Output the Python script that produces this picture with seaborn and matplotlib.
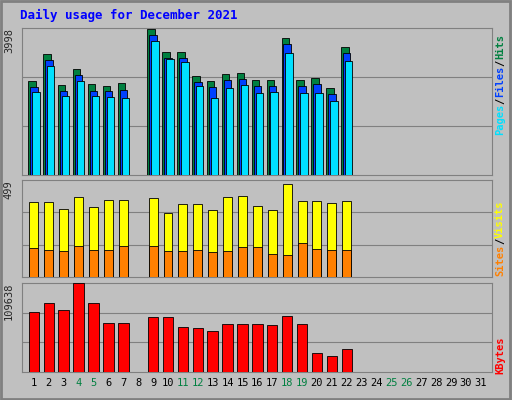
import numpy as np
import matplotlib.pyplot as plt
import seaborn as sns

days = [1, 2, 3, 4, 5, 6, 7, 9, 10, 11, 12, 13, 14, 15, 16, 17, 18, 19, 20, 21, 22]
hits = [2557, 3291, 2448, 2883, 2475, 2421, 2502, 3970, 3345, 3345, 2693, 2557, 2747, 2774, 2584, 2584, 3726, 2584, 2638, 2366, 3481]
files = [2393, 3128, 2285, 2720, 2285, 2285, 2312, 3807, 3182, 3182, 2530, 2394, 2584, 2611, 2421, 2421, 3563, 2421, 2475, 2203, 3318]
pages = [2257, 2964, 2149, 2557, 2149, 2122, 2095, 3644, 3155, 3074, 2421, 2095, 2366, 2448, 2230, 2257, 3318, 2230, 2230, 2013, 3100]
visits = [386, 386, 350, 412, 360, 396, 396, 407, 329, 375, 375, 345, 412, 417, 365, 345, 478, 391, 391, 381, 391]
sites = [149, 139, 134, 159, 139, 139, 159, 159, 134, 134, 139, 129, 134, 154, 154, 118, 113, 175, 144, 139, 139]
kbytes = [73921, 85008, 76385, 109638, 85008, 60365, 60365, 67757, 67757, 55437, 54205, 50509, 59133, 59133, 59133, 57901, 68989, 59133, 23405, 19709, 28333]
weekend = [4, 5, 11, 12, 18, 19, 25, 26]

sns.set_style("white")
plt.rcParams['font.family'] = ['DejaVu Sans Mono']
bg = "#c0c0c0"
fig = plt.figure(figsize=(5.12, 4.0), dpi=100, facecolor=bg)

x = np.array(days, dtype=float)
left, width = 22 / 512, 470 / 512
panels = [(28, 175), (180, 277), (283, 372)]
axes = []
for top, bot in panels:
    ax = fig.add_axes([left, 1 - bot / 400, width, (bot - top) / 400], facecolor=bg)
    ax.set_xlim(0.2, 31.75)
    for s in ax.spines.values():
        s.set_color("#808080")
    axes.append(ax)

ax1, ax2, ax3 = axes
w = 0.5
ax1.bar(x - 0.13, hits, w, color="#008040", edgecolor="black", lw=0.6, zorder=3)
ax1.bar(x + 0.0, files, w, color="#0040ff", edgecolor="black", lw=0.6, zorder=4)
ax1.bar(x + 0.13, pages, w, color="#00e0ff", edgecolor="black", lw=0.6, zorder=5)
ax1.set_ylim(0, 3998)
ax2.bar(x, visits, 0.6, color="#ffff00", edgecolor="black", lw=0.6, zorder=3)
ax2.bar(x, sites, 0.6, color="#ff8000", edgecolor="black", lw=0.6, zorder=4)
ax2.set_ylim(0, 499)
ax3.bar(x, kbytes, 0.7, color="#ff0000", edgecolor="black", lw=0.6, zorder=3)
ax3.set_ylim(0, 109638)

for ax, mx in zip(axes, [3998, 499, 109638]):
    for f in (1 / 3, 2 / 3):
        ax.axhline(mx * f, color="#808080", lw=0.8, zorder=1)
    ax.set_yticks([])
    ax.text(-0.028, 1.0, str(mx), transform=ax.transAxes, rotation=90,
            ha="center", va="top", fontsize=7.5)
    ax.set_xticks([])

ax3.set_xticks(range(1, 32))
ax3.set_xticklabels([str(d) for d in range(1, 32)], fontsize=7.5)
for lbl, d in zip(ax3.get_xticklabels(), range(1, 32)):
    lbl.set_color("#008040" if d in weekend else "black")
ax3.tick_params(axis="x", length=0, pad=4)

def side_label(bottom_px, parts):
    y = bottom_px
    for txt, col in parts:
        fig.text(500 / 512, 1 - y / 400, txt, rotation=90, ha="center", va="bottom",
                 fontsize=7.5, color=col, fontweight="bold")
        y -= len(txt) * 6.3

side_label(135, [("Pages", "#00e0ff"), ("/", "black"), ("Files", "#0040ff"),
                 ("/", "black"), ("Hits", "#008040")])
side_label(276, [("Sites", "#ff8000"), ("/", "black"), ("Visits", "#ffff00")])
side_label(374, [("KBytes", "#ff0000")])

fig.text(20 / 512, 1 - 15 / 400, "Daily usage for December 2021", color="#0000ff",
         fontsize=9, fontweight="bold", va="center")
fig.patches.append(plt.Rectangle((0.002, 0.003), 0.995, 0.994, transform=fig.transFigure,
                                 fill=False, edgecolor="#808080", lw=2))
fig.savefig("out.png", dpi=100, facecolor=bg)
